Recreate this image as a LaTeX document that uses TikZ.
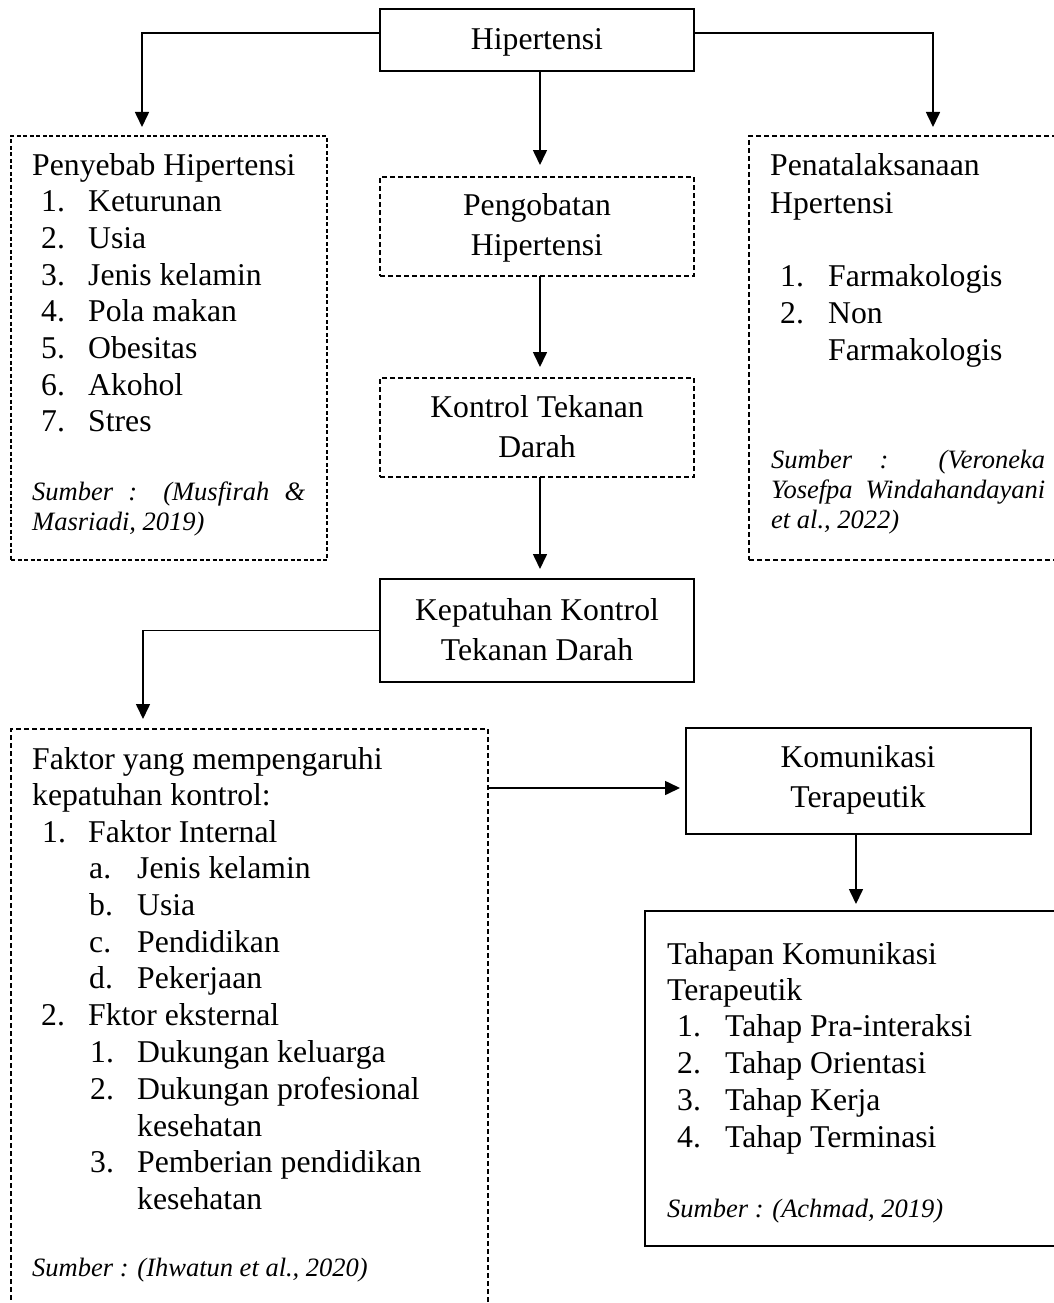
\documentclass[tikz,border=0pt]{standalone}
\usepackage{fontspec}
\setmainfont{Liberation Serif}
\usetikzlibrary{arrows.meta}
\newcommand{\mainsz}{\fontsize{31.7pt}{36.8pt}\selectfont}
\newcommand{\srcsz}{\fontsize{26.5pt}{30pt}\selectfont\itshape}
\begin{document}
\begin{tikzpicture}[x=1pt,y=-1pt,
  box/.style={draw, inner sep=0pt, outer sep=0pt, anchor=north west},
  solidbox/.style={box, line width=2.2pt},
  dbox/.style={box, line width=1.3pt, dash pattern=on 4pt off 2.5pt},
  dboxb/.style={box, line width=1.8pt, dash pattern=on 5pt off 3pt},
  arr/.style={line width=1.6pt, -{Triangle[length=15pt,width=14pt]}},
  tx/.style={inner sep=0pt, anchor=base west, font=\mainsz},
  tc/.style={inner sep=0pt, anchor=base, font=\mainsz},
  src/.style={inner sep=0pt, anchor=base west, font=\srcsz}]
\useasboundingbox (0,0) rectangle (1054,1303);
\clip (0,0) rectangle (1054,1303);

% boxes
\node[solidbox, minimum width=314pt, minimum height=62pt] (hip) at (380,9) {};
\node[dbox, minimum width=316pt, minimum height=424pt] (peny) at (11,136) {};
\node[dboxb, minimum width=330pt, minimum height=424pt] (pena) at (749,136) {};
\node[dboxb, line width=1.6pt, minimum width=314pt, minimum height=99pt] (peng) at (380,177) {};
\node[dboxb, line width=1.6pt, minimum width=314pt, minimum height=99pt] (kont) at (380,378) {};
\node[solidbox, line width=2pt, minimum width=314pt, minimum height=103pt] (kep) at (380,579) {};
\node[dboxb, minimum width=477pt, minimum height=600pt] (fak) at (11,729) {};
\node[solidbox, line width=2pt, minimum width=345pt, minimum height=106pt] (kom) at (686,728) {};
\node[solidbox, minimum width=430pt, minimum height=335pt] (tah) at (645,911) {};

% arrow end points
\coordinate (tipL) at (142,127);
\coordinate (tipR) at (933,127);
\coordinate (tipM1) at (540,165);
\coordinate (tipM2) at (540,367);
\coordinate (tipM3) at (540,569);
\coordinate (tipF) at (143,719);
\coordinate (tipK) at (680,788);
\coordinate (tipT) at (856,904);

% connectors
\draw[arr] ([yshift=-24pt]hip.north west) -| (tipL);
\draw[arr] ([yshift=-24pt]hip.north east) -| (tipR);
\draw[arr] (hip.south -| tipM1) -- (tipM1);
\draw[arr] (peng.south -| tipM2) -- (tipM2);
\draw[arr] (kont.south -| tipM3) -- (tipM3);
\draw[arr] (kep.west) -| (tipF);
\draw[arr] (fak.east |- tipK) -- (tipK);
\draw[arr] (kom.south -| tipT) -- (tipT);

% centre texts
\node[tc] (h1) at (537,50) {Hipertensi};
\node[tc] (g1) at (537,215) {Pengobatan};
\node[tc] (g2) at (537,255) {Hipertensi};
\node[tc] (k1) at (537,417) {Kontrol Tekanan};
\node[tc] (k2) at (537,457) {Darah};
\node[tc] (e1) at (537,620) {Kepatuhan Kontrol};
\node[tc] (e2) at (537,660) {Tekanan Darah};
\node[tc] (m1) at (858,767) {Komunikasi};
\node[tc] (m2) at (858,807) {Terapeutik};

% Penyebab
\node[tx] (pA) at (32,175) {Penyebab Hipertensi};
\foreach \myn/\myt [count=\i] in {1./Keturunan, 2./Usia, 3./Jenis kelamin, 4./Pola makan, 5./Obesitas, 6./Akohol, 7./Stres} {
  \node[tx] (pn\i) at (41,{175+36.7*\i}) {\myn};
  \node[tx] (pt\i) at (88,{175+36.7*\i}) {\myt};
}
\node[src] (ps1) at (32,500) {\makebox[273pt][s]{Sumber : (Musfirah \&}};
\node[src] (ps2) at (32,530) {Masriadi, 2019)};

% Penatalaksanaan
\node[tx] (rA) at (770,175) {Penatalaksanaan};
\node[tx] (rB) at (770,213) {Hpertensi};
\node[tx] (rn1) at (780,286) {1.};
\node[tx] (rt1) at (828,286) {Farmakologis};
\node[tx] (rn2) at (780,323) {2.};
\node[tx] (rt2) at (828,323) {Non};
\node[tx] (rt3) at (828,360) {Farmakologis};
\node[src] (rs1) at (771,468) {\makebox[274pt][s]{Sumber : (Veroneka}};
\node[src] (rs2) at (771,498) {\makebox[274pt][s]{Yosefpa Windahandayani}};
\node[src] (rs3) at (771,528) {et al., 2022)};

% Faktor
\node[tx] (fA) at (32,769) {Faktor yang mempengaruhi};
\node[tx] (fB) at (32,805) {kepatuhan kontrol:};
\node[tx] (fn1) at (42,842) {1.};
\node[tx] (ft1) at (88,842) {Faktor Internal};
\foreach \myn/\myt [count=\i] in {a./Jenis kelamin, b./Usia, c./Pendidikan, d./Pekerjaan} {
  \node[tx] (fa\i) at (89,{842+36.7*\i}) {\myn};
  \node[tx] (fb\i) at (137,{842+36.7*\i}) {\myt};
}
\node[tx] (fn2) at (41,1025) {2.};
\node[tx] (ft2) at (88,1025) {Fktor eksternal};
\node[tx] (fc1) at (90,1062) {1.};
\node[tx] (fd1) at (137,1062) {Dukungan keluarga};
\node[tx] (fc2) at (90,1099) {2.};
\node[tx] (fd2) at (137,1099) {Dukungan profesional};
\node[tx] (fd2b) at (137,1136) {kesehatan};
\node[tx] (fc3) at (90,1172) {3.};
\node[tx] (fd3) at (137,1172) {Pemberian pendidikan};
\node[tx] (fd3b) at (137,1209) {kesehatan};
\node[src] (fs) at (32,1276) {Sumber : (Ihwatun et al., 2020)};

% Tahapan
\node[tx] (tA) at (667,964) {Tahapan Komunikasi};
\node[tx] (tB) at (667,1000) {Terapeutik};
\foreach \myn/\myt [count=\i] in {1./Tahap Pra-interaksi, 2./Tahap Orientasi, 3./Tahap Kerja, 4./Tahap Terminasi} {
  \node[tx] (tn\i) at (677,{1000+36.8*\i}) {\myn};
  \node[tx] (tt\i) at (725,{1000+36.8*\i}) {\myt};
}
\node[src] (ts) at (667,1217) {Sumber : (Achmad, 2019)};
\end{tikzpicture}
\end{document}
